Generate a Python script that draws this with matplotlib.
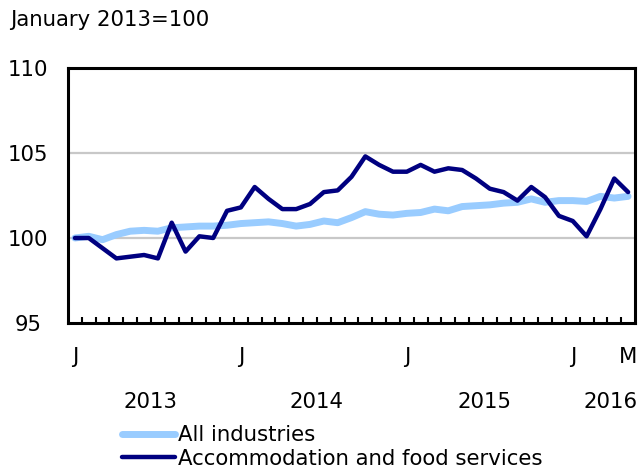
import matplotlib
matplotlib.use("Agg")
import matplotlib.pyplot as plt
from matplotlib.transforms import blended_transform_factory
from matplotlib.lines import Line2D

months = list(range(41))  # Jan 2013 .. May 2016
all_industries = [100.0, 100.1, 99.9, 100.2, 100.4, 100.45, 100.4, 100.6, 100.65, 100.7,
                  100.7, 100.75, 100.85, 100.9, 100.95, 100.85, 100.7, 100.8, 101.0, 100.9,
                  101.2, 101.55, 101.4, 101.35, 101.45, 101.5, 101.7, 101.6, 101.85, 101.9,
                  101.95, 102.05, 102.1, 102.3, 102.1, 102.2, 102.2, 102.15, 102.45, 102.35,
                  102.45]
accommodation = [100.0, 100.0, 99.4, 98.8, 98.9, 99.0, 98.8, 100.9, 99.2, 100.1,
                 100.0, 101.6, 101.8, 103.0, 102.3, 101.7, 101.7, 102.0, 102.7, 102.8,
                 103.6, 104.8, 104.3, 103.9, 103.9, 104.3, 103.9, 104.1, 104.0, 103.5,
                 102.9, 102.7, 102.2, 103.0, 102.4, 101.3, 101.0, 100.1, 101.7, 103.5,
                 102.7]
month_label_pos = [0, 12, 24, 36, 40]
month_labels = ["J", "J", "J", "J", "M"]
year_label_pos = [5.5, 17.5, 29.6, 38.7]
year_labels = ["2013", "2014", "2015", "2016"]
y_ticks = [95, 100, 105, 110]
series_names = ["All industries", "Accommodation and food services"]

light = "#99CCFF"
dark = "#000080"
FS = 15.3

fig = plt.figure(figsize=(6.39, 4.72), dpi=100)
ax = fig.add_axes([68/639, 1-323/472, (635-68)/639, (323-68)/472])

ax.plot(months, all_industries, color=light, lw=5.0, solid_capstyle="round", solid_joinstyle="round", zorder=3)
ax.plot(months, accommodation, color=dark, lw=3.2, solid_capstyle="round", solid_joinstyle="round", zorder=4)

ax.set_xlim(-0.5, 40.5)
ax.set_ylim(95, 110)
for g in [100, 105]:
    ax.axhline(g, color="#C8C8C8", lw=1.6, zorder=1)

ax.set_yticks(y_ticks)
ax.set_yticklabels([str(v) for v in y_ticks], fontsize=FS, ha="center")
ax.tick_params(axis="y", length=0, pad=29)

ax.set_xticks([m + 0.5 for m in months[:-1]])
ax.set_xticklabels([])
ax.tick_params(axis="x", direction="in", length=4, width=1.5)

for s in ax.spines.values():
    s.set_linewidth(2.2)
    s.set_color("black")

tr = blended_transform_factory(ax.transData, fig.transFigure)
for p, l in zip(month_label_pos, month_labels):
    ax.text(p, 1-357/472, l, transform=tr, fontsize=FS, ha="center", va="center")
for p, l in zip(year_label_pos, year_labels):
    ax.text(p, 1-402/472, l, transform=tr, fontsize=FS, ha="center", va="center")

fig.text(10/639, 1-20/472, "January 2013=100", fontsize=FS, ha="left", va="center")

handles = [Line2D([], [], color=light, lw=5, solid_capstyle="round"),
           Line2D([], [], color=dark, lw=3.2, solid_capstyle="round")]
fig.legend(handles, series_names, loc="upper left", bbox_to_anchor=(122/639, 1-425/472),
           frameon=False, fontsize=FS, handlelength=2.5, handletextpad=0.15,
           labelspacing=0.18, borderaxespad=0, borderpad=0)

fig.savefig("out.png", dpi=100)
